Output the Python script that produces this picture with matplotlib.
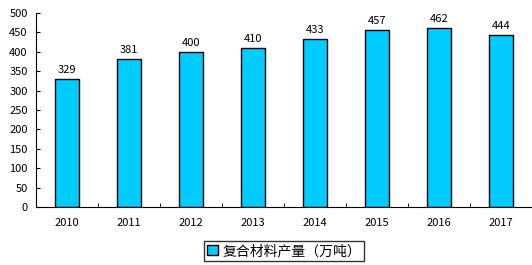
import matplotlib
matplotlib.use("Agg")
import matplotlib.pyplot as plt

plt.rcParams['font.family'] = ['Noto Sans CJK SC', 'DejaVu Sans']

years = ["2010", "2011", "2012", "2013", "2014", "2015", "2016", "2017"]
output = [329, 381, 400, 410, 433, 457, 462, 444]
series_name = "复合材料产量（万吨）"

fig = plt.figure(figsize=(5.32, 2.65), dpi=100)
ax = fig.add_axes([36 / 532, 58 / 265, 496 / 532, 194 / 265])

x = list(range(len(years)))
bars = ax.bar(x, output, width=0.39, color="#00CCFF", edgecolor="black",
              linewidth=1, label=series_name)
for xi, v in zip(x, output):
    ax.text(xi, v + 10, str(v), ha="center", va="bottom", fontsize=8)

ax.set_xlim(-0.5, len(years) - 0.5)
ax.set_ylim(0, 500)
ax.set_yticks(range(0, 501, 50))
ax.tick_params(axis="y", direction="in", length=3, labelsize=8, pad=6)
ax.set_xticks(x)
ax.set_xticklabels(years)
ax.tick_params(axis="x", length=0, labelsize=8, pad=8)
ax.set_xticks([i + 0.5 for i in x[:-1]], minor=True)
ax.tick_params(axis="x", which="minor", direction="in", length=3)
ax.spines["top"].set_visible(False)
ax.spines["right"].set_visible(False)

leg = fig.legend(loc="center", bbox_to_anchor=(284 / 532, 1 - 251 / 265),
                 fontsize=10, frameon=True, fancybox=False, edgecolor="black",
                 handlelength=0.8, handleheight=0.8, handletextpad=0.3,
                 borderpad=0.25)
leg.get_frame().set_linewidth(1)

fig.savefig("out.png", dpi=100)
